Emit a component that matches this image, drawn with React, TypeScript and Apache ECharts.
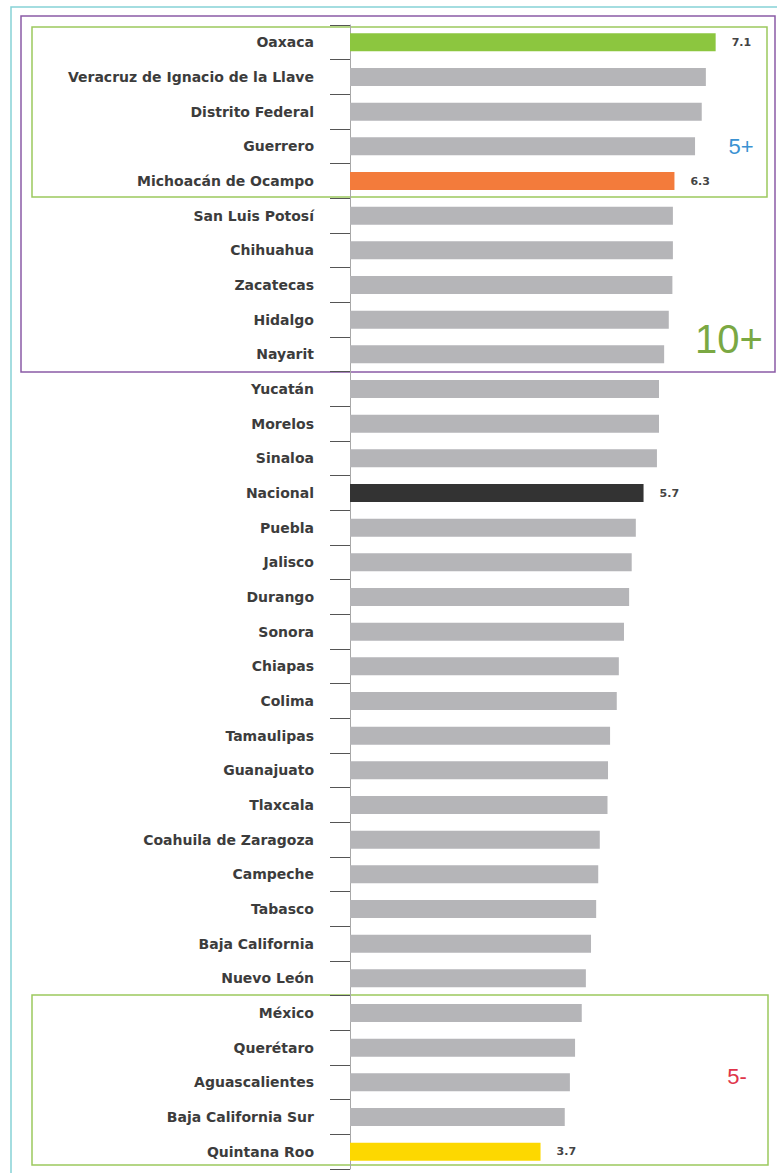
import React, { useEffect, useRef } from "react";
import * as echarts from "echarts";

const categories: string[] = [
  "Oaxaca", "Veracruz de Ignacio de la Llave", "Distrito Federal", "Guerrero", "Michoacán de Ocampo",
  "San Luis Potosí", "Chihuahua", "Zacatecas", "Hidalgo", "Nayarit",
  "Yucatán", "Morelos", "Sinaloa", "Nacional", "Puebla",
  "Jalisco", "Durango", "Sonora", "Chiapas", "Colima",
  "Tamaulipas", "Guanajuato", "Tlaxcala", "Coahuila de Zaragoza", "Campeche",
  "Tabasco", "Baja California", "Nuevo León", "México", "Querétaro",
  "Aguascalientes", "Baja California Sur", "Quintana Roo",
];

const values: number[] = [
  7.1, 6.91, 6.83, 6.7, 6.3,
  6.27, 6.27, 6.26, 6.19, 6.1,
  6.0, 6.0, 5.96, 5.7, 5.55,
  5.47, 5.42, 5.32, 5.22, 5.18,
  5.05, 5.01, 5.0, 4.85, 4.82,
  4.78, 4.68, 4.58, 4.5, 4.37,
  4.27, 4.17, 3.7,
];

const highlighted: Record<string, string> = {
  "Oaxaca": "#8cc63f",
  "Michoacán de Ocampo": "#f37b3b",
  "Nacional": "#333333",
  "Quintana Roo": "#fdd800",
};
const baseColor = "#b5b5b8";

const groupTags: string[] = ["5+", "10+", "5-"];

export default function App() {
  const ref = useRef<HTMLDivElement>(null);

  useEffect(() => {
    if (!ref.current) return;
    const chart = echarts.init(ref.current, null, { renderer: "svg" });

    const data = values.map((v, i) => {
      const name = categories[i];
      const c = highlighted[name];
      return {
        value: v,
        itemStyle: { color: c || baseColor },
        label: {
          show: !!c,
          position: "right",
          distance: 16,
          formatter: (p: any) => Number(p.value).toFixed(1),
          color: "#444",
          fontSize: 11,
          fontWeight: "bold",
          fontFamily: "DejaVu Sans",
        },
      };
    });

    chart.setOption({
      animation: false,
      backgroundColor: "#ffffff",
      grid: { left: 350, right: 15, top: 25, height: 1144, containLabel: false },
      xAxis: {
        type: "value",
        min: 0,
        max: 8,
        show: false,
      },
      yAxis: {
        type: "category",
        inverse: true,
        data: categories,
        axisLine: { show: true, lineStyle: { color: "#a8a8a8", width: 1 } },
        axisTick: { show: true, length: 20, lineStyle: { color: "#555", width: 1 } },
        axisLabel: {
          margin: 36,
          color: "#3c3c3c",
          fontSize: 14,
          fontWeight: "bold",
          fontFamily: "DejaVu Sans",
        },
        splitLine: { show: false },
      },
      series: [
        {
          type: "bar",
          data,
          barWidth: 18,
          silent: true,
        },
      ],
      graphic: [
        {
          type: "rect",
          shape: { x: 11, y: 7, width: 790, height: 1190 },
          style: { fill: "none", stroke: "#86d2d6", lineWidth: 1.5 },
          silent: true,
        },
        {
          type: "rect",
          shape: { x: 21, y: 16, width: 754, height: 356 },
          style: { fill: "none", stroke: "#8a5ba6", lineWidth: 1.5 },
          silent: true,
        },
        {
          type: "rect",
          shape: { x: 32, y: 27, width: 735, height: 170 },
          style: { fill: "none", stroke: "#9cc95e", lineWidth: 1.5 },
          silent: true,
        },
        {
          type: "rect",
          shape: { x: 32, y: 995, width: 736, height: 170 },
          style: { fill: "none", stroke: "#9cc95e", lineWidth: 1.5 },
          silent: true,
        },
        {
          type: "text",
          x: 741,
          y: 146,
          style: {
            text: groupTags[0],
            fill: "#3b92d2",
            fontSize: 22,
            fontFamily: "Liberation Sans",
            align: "center",
            verticalAlign: "middle",
          },
        },
        {
          type: "text",
          x: 729,
          y: 339,
          style: {
            text: groupTags[1],
            fill: "#7aa843",
            fontSize: 40,
            fontFamily: "Liberation Sans",
            align: "center",
            verticalAlign: "middle",
          },
        },
        {
          type: "text",
          x: 737,
          y: 1076,
          style: {
            text: groupTags[2],
            fill: "#e0344a",
            fontSize: 22,
            fontFamily: "Liberation Sans",
            align: "center",
            verticalAlign: "middle",
          },
        },
      ],
    });

    return () => chart.dispose();
  }, []);

  return (
    <div
      ref={ref}
      style={{ position: "absolute", left: 0, top: 0, width: 777, height: 1173 }}
    />
  );
}
